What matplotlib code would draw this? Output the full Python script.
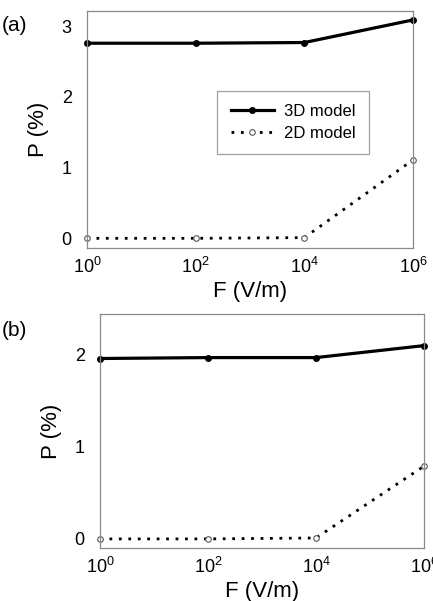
import matplotlib
matplotlib.use("Agg")
import matplotlib.pyplot as plt

# data
field = [1, 1e2, 1e4, 1e6]
p3d_a = [2.76, 2.76, 2.77, 3.09]
p2d_a = [0.0, 0.0, 0.01, 1.11]
p3d_b = [1.96, 1.97, 1.97, 2.10]
p2d_b = [0.0, 0.0, 0.01, 0.79]
xticks = [1, 1e2, 1e4, 1e6]
xticklabels = ["$10^{0}$", "$10^{2}$", "$10^{4}$", "$10^{6}$"]

plt.rcParams["font.family"] = ["Liberation Sans", "DejaVu Sans"]
plt.rcParams["mathtext.fontset"] = "custom"
plt.rcParams["mathtext.rm"] = "Liberation Sans"
plt.rcParams["mathtext.it"] = "Liberation Sans"
plt.rcParams["font.size"] = 12

fig = plt.figure(figsize=(4.33, 6.01), dpi=100)
ax_a = fig.add_axes([0.201, 0.587, 0.753, 0.394])
ax_b = fig.add_axes([0.231, 0.088, 0.748, 0.389])


def draw_panel(ax, p3d, p2d, ylim, yticks):
    ax.plot(field, p3d, color="black", lw=2.3, marker="o", ms=4,
            mfc="black", mec="black", label="3D model", clip_on=False)
    ax.plot(field, p2d, color="black", lw=2.0, ls=(0, (1, 2.4)), marker="o",
            ms=4, mfc="white", mec="#555555", mew=0.8, label="2D model",
            clip_on=False)
    ax.set_xscale("log")
    ax.set_xlim(1, 1e6)
    ax.set_ylim(*ylim)
    ax.set_xticks(xticks)
    ax.set_xticklabels(xticklabels)
    ax.minorticks_off()
    ax.set_yticks(yticks)
    ax.tick_params(length=0, labelsize=13)
    ax.tick_params(axis="x", pad=6)
    ax.tick_params(axis="y", pad=11)
    for s in ax.spines.values():
        s.set_color("#8a8a8a")
        s.set_linewidth(0.9)
    ax.set_xlabel("F (V/m)", fontsize=16, labelpad=3)
    ax.set_ylabel("P (%)", fontsize=16, labelpad=9)


draw_panel(ax_a, p3d_a, p2d_a, (-0.14, 3.21), [0, 1, 2, 3])
draw_panel(ax_b, p3d_b, p2d_b, (-0.10, 2.44), [0, 1, 2])

leg = ax_a.legend(loc="upper left", bbox_to_anchor=(0.374, 0.70),
                  fontsize=12, frameon=True, fancybox=False,
                  handlelength=2.6, borderpad=0.8, labelspacing=0.4,
                  handletextpad=0.6)
leg.get_frame().set_edgecolor("#8a8a8a")
leg.get_frame().set_linewidth(0.9)

fig.text(0.005, 0.958, "(a)", fontsize=15, va="center")
fig.text(0.005, 0.450, "(b)", fontsize=15, va="center")

plt.savefig("out.png", dpi=100)
